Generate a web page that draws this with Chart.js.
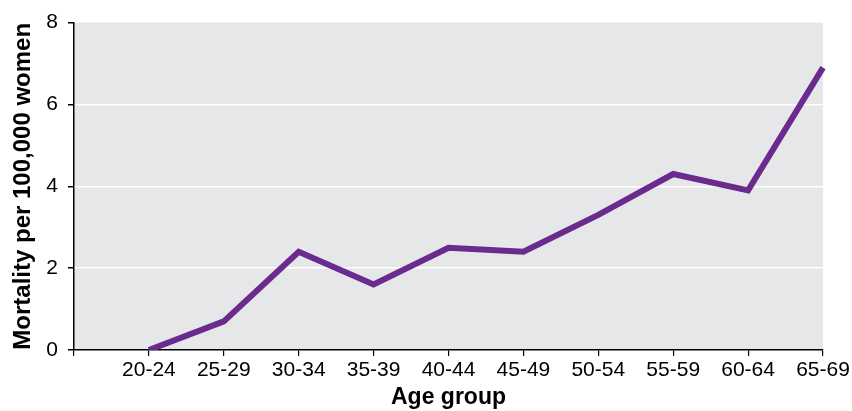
<!DOCTYPE html>
<html>
<head>
<meta charset="utf-8">
<script src="https://cdn.jsdelivr.net/npm/chart.js@4"></script>
<style>
  html, body { margin: 0; padding: 0; background: #fff; }
  #wrap { width: 852px; height: 411px; }
</style>
</head>
<body>
<div id="wrap"><canvas id="mortalityChart"></canvas></div>
<script>
// age groups and mortality per 100,000 women
var ageGroups = ["20-24", "25-29", "30-34", "35-39", "40-44", "45-49", "50-54", "55-59", "60-64", "65-69"];
var mortality = [0, 0.7, 2.4, 1.6, 2.5, 2.4, 3.3, 4.3, 3.9, 6.9];
var yTicks = [0, 2, 4, 6, 8];

// first slot on the axis is left blank
var labels = [""].concat(ageGroups);
var values = [null].concat(mortality);

// grey plot background
var plotBg = {
  id: "plotBg",
  beforeDraw: function (chart) {
    var a = chart.chartArea;
    var c = chart.ctx;
    c.save();
    c.fillStyle = "#e6e7e9";
    c.fillRect(a.left, a.top, a.right - a.left, a.bottom - a.top);
    c.restore();
  }
};

var ctx = document.getElementById("mortalityChart");
var chart = new Chart(ctx, {
  type: "line",
  data: {
    labels: labels,
    datasets: [{
      data: values,
      borderColor: "#6b2a8e",
      borderWidth: 6,
      borderJoinStyle: "miter",
      pointRadius: 0,
      tension: 0,
      fill: false
    }]
  },
  options: {
    responsive: true,
    maintainAspectRatio: false,
    animation: false,
    layout: { padding: { left: 0, right: 29, top: 18, bottom: 0 } },
    plugins: { legend: { display: false }, tooltip: { enabled: false } },
    scales: {
      x: {
        offset: false,
        grid: { drawOnChartArea: false, drawTicks: true, tickLength: 6, color: "#000", lineWidth: 1.2 },
        border: { color: "#000", width: 1.5 },
        ticks: { color: "#000", font: { family: "Liberation Sans, Arial", size: 21 }, padding: 2, maxRotation: 0, autoSkip: false },
        title: { display: true, text: "Age group", color: "#000", font: { family: "Liberation Sans, Arial", size: 23, weight: "bold" }, padding: 0 },
        afterFit: function (s) { s.height = 61; }
      },
      y: {
        min: 0,
        max: 8,
        afterBuildTicks: function (s) { s.ticks = yTicks.map(function (v) { return { value: v }; }); },
        grid: {
          color: function (c) { return (c.tick && (c.tick.value === 0 || c.tick.value === 8)) ? "rgba(0,0,0,0)" : "#fff"; },
          tickColor: "#000",
          lineWidth: 1.5,
          drawTicks: true,
          tickLength: 6
        },
        border: { color: "#000", width: 1.5 },
        ticks: { color: "#000", font: { family: "Liberation Sans, Arial", size: 21 }, padding: 10 },
        title: { display: true, text: "Mortality per 100,000 women", color: "#000", font: { family: "Liberation Sans, Arial", size: 24, weight: "bold" }, padding: { top: 9, bottom: 0 } },
        afterFit: function (s) { s.width = 74; }
      }
    }
  },
  plugins: [plotBg]
});
</script>
</body>
</html>
